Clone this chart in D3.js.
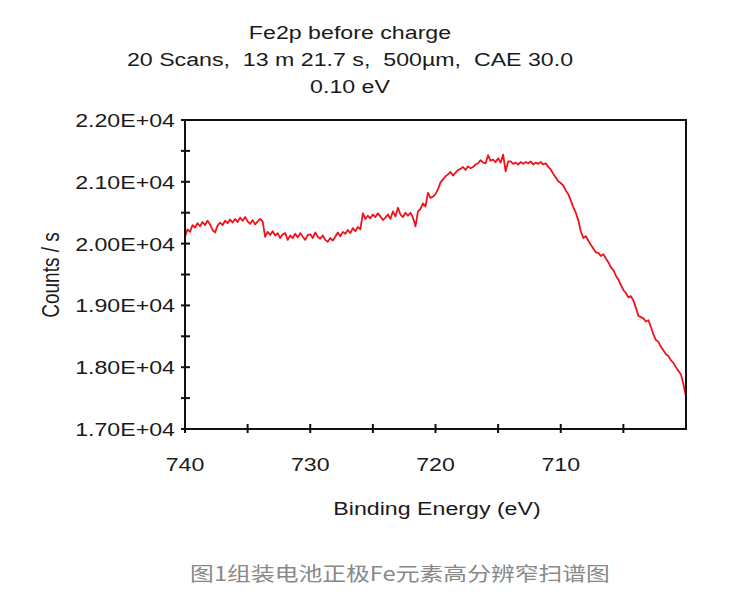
<!DOCTYPE html>
<html>
<head>
<meta charset="utf-8">
<script src="https://cdn.jsdelivr.net/npm/d3@7"></script>
<style>
  html, body { margin: 0; padding: 0; background: #fff; }
  svg { display: block; }
  text { white-space: pre; }
</style>
</head>
<body>
<svg id="chart" width="750" height="606"></svg>
<script>
// ---- data ----
const titleLines = ["Fe2p before charge", "20 Scans,  13 m 21.7 s,  500\u00b5m,  CAE 30.0", "0.10 eV"];
const xLabel = "Binding Energy (eV)";
const yLabel = "Counts / s";
const caption = "图1组装电池正极Fe元素高分辨窄扫谱图";

const energyStart = 740;   // eV, first sample
const energyStep = 0.2;    // eV between samples
const counts = [
  20110, 20230, 20190, 20300, 20260,
  20330, 20280, 20350, 20300, 20370,
  20310, 20220, 20180, 20290, 20340,
  20300, 20370, 20330, 20390, 20340,
  20400, 20350, 20420, 20370, 20430,
  20360, 20320, 20380, 20310, 20360,
  20400, 20360, 20110, 20190, 20140,
  20200, 20130, 20170, 20090, 20150,
  20170, 20060, 20130, 20090, 20160,
  20100, 20170, 20110, 20060, 20140,
  20150, 20090, 20180, 20110, 20080,
  20130, 20060, 20030, 20090, 20050,
  20110, 20180, 20120, 20190, 20160,
  20220, 20170, 20250, 20200, 20270,
  20230, 20490, 20400, 20450, 20410,
  20470, 20430, 20490, 20440, 20380,
  20420, 20470, 20400, 20520, 20440,
  20580, 20470, 20430, 20500, 20450,
  20500, 20420, 20280, 20520, 20560,
  20650, 20600, 20820, 20740, 20760,
  20800, 20880, 20990, 21040, 21090,
  21120, 21160, 21100, 21150, 21190,
  21210, 21240, 21190, 21250, 21220,
  21240, 21280, 21300, 21350, 21310,
  21300, 21430, 21340, 21360, 21320,
  21380, 21310, 21440, 21170, 21330,
  21330, 21290, 21310, 21280, 21320,
  21290, 21320, 21300, 21330, 21280,
  21310, 21290, 21320, 21280, 21300,
  21240, 21200, 21130, 21070, 21010,
  20980, 20940, 20860, 20800, 20700,
  20590, 20500, 20380, 20200, 20090,
  20120, 20050, 19980, 19920, 19860,
  19850, 19800, 19830, 19760, 19700,
  19620, 19570, 19480, 19420, 19330,
  19250, 19200, 19130, 19150, 19080,
  18960, 18830, 18810, 18790, 18740,
  18760, 18650, 18530, 18440, 18410,
  18330, 18270, 18210, 18180, 18110,
  18070, 18000, 17940, 17880, 17720,
  17520
];
const xTickValues = [740, 730, 720, 710];
const xMinorTicks = [735, 725, 715, 705];
const yTickValues = [17000, 18000, 19000, 20000, 21000, 22000];
const yMinorTicks = [17500, 18500, 19500, 20500, 21500];

// ---- layout ----
const plot = { left: 185, right: 686, top: 120, bottom: 429 };
const sx = 1.22; // horizontal text stretch of the reference image
const font = "'Liberation Sans', Arial, sans-serif";

const svg = d3.select("#chart");

const x = d3.scaleLinear().domain([740, 700]).range([plot.left, plot.right]);
const y = d3.scaleLinear().domain([17000, 22000]).range([plot.bottom, plot.top]);

const data = counts.map((c, i) => ({ e: energyStart - i * energyStep, c }));

function stretchedText(g, tx, ty, str, opts) {
  return g.append("text")
    .attr("transform", `translate(${tx},${ty}) scale(${sx},1)`)
    .attr("font-family", opts.family || font)
    .attr("font-size", opts.size)
    .attr("fill", opts.fill || "#1a1a1a")
    .attr("text-anchor", opts.anchor || "middle")
    .text(str);
}

// title
titleLines.forEach((s, i) => {
  stretchedText(svg, 350, 39 + i * 27, s, { size: 19 });
});

// spectrum line
const line = d3.line().x(d => x(d.e)).y(d => y(d.c));
svg.append("path")
  .datum(data)
  .attr("d", line)
  .attr("fill", "none")
  .attr("stroke", "#f2111a")
  .attr("stroke-width", 1.8)
  .attr("stroke-linejoin", "round");

// frame
svg.append("rect")
  .attr("x", plot.left).attr("y", plot.top)
  .attr("width", plot.right - plot.left).attr("height", plot.bottom - plot.top)
  .attr("fill", "none").attr("stroke", "#111").attr("stroke-width", 2);

// ticks crossing the frame
const ticksG = svg.append("g");
[...yTickValues, ...yMinorTicks].forEach(v => {
  ticksG.append("line")
    .attr("x1", plot.left - 4).attr("x2", plot.left + 5)
    .attr("y1", y(v)).attr("y2", y(v))
    .attr("stroke", "#111").attr("stroke-width", 2);
});
[...xTickValues, ...xMinorTicks].forEach(v => {
  ticksG.append("line")
    .attr("x1", x(v)).attr("x2", x(v))
    .attr("y1", plot.bottom - 5).attr("y2", plot.bottom + 4)
    .attr("stroke", "#111").attr("stroke-width", 2);
});

// y tick labels
yTickValues.forEach(v => {
  stretchedText(svg, 175, y(v) + 7, (v / 1e4).toFixed(2) + "E+04", { size: 19, anchor: "end" });
});
// x tick labels
xTickValues.forEach(v => {
  stretchedText(svg, x(v), 471, String(v), { size: 19 });
});

// axis titles
stretchedText(svg, 437, 515, xLabel, { size: 19 });
svg.append("text")
  .attr("transform", `translate(59,275) rotate(-90) scale(1,${sx})`)
  .attr("font-family", font).attr("font-size", 19)
  .attr("fill", "#1a1a1a").attr("text-anchor", "middle")
  .text(yLabel);

// caption
stretchedText(svg, 400, 581, caption, { size: 19.5, fill: "#888", family: "'Noto Sans CJK SC', sans-serif" });
</script>
</body>
</html>
